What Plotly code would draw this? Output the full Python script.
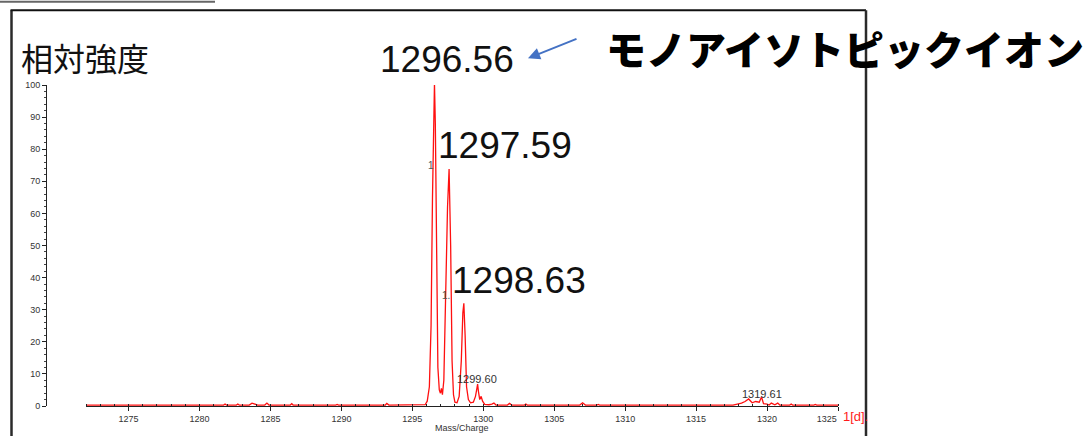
import plotly.graph_objects as go

# ---- data ----
mz = [1272.0, 1281.7, 1281.8, 1281.9, 1282.6, 1282.7, 1282.8, 1283.5, 1283.7, 1283.9, 1284.1,
      1284.6, 1284.75, 1284.9, 1286.4, 1286.5, 1286.6, 1289.6, 1289.7, 1289.8, 1293.1, 1293.2, 1293.35,
      1295.9, 1296.05, 1296.2, 1296.32, 1296.42, 1296.5, 1296.56, 1296.62, 1296.7, 1296.8, 1296.9,
      1296.98, 1297.05, 1297.12, 1297.22, 1297.35, 1297.48, 1297.59, 1297.7, 1297.8, 1297.9, 1298.0,
      1298.15, 1298.3, 1298.45, 1298.56, 1298.63, 1298.72, 1298.82, 1298.95, 1299.1, 1299.3, 1299.45,
      1299.55, 1299.6, 1299.66, 1299.75, 1299.85, 1299.95, 1300.1, 1300.4, 1300.6, 1300.75, 1300.9,
      1301.7, 1301.85, 1302.0, 1302.9, 1303.0, 1303.1, 1306.8, 1307.0, 1307.2, 1308.0, 1308.1, 1308.2,
      1317.6, 1317.9, 1318.2, 1318.45, 1318.7, 1318.95, 1319.2, 1319.45, 1319.61, 1319.75, 1320.0,
      1320.15, 1320.3, 1320.55, 1320.75, 1320.9, 1321.6, 1321.7, 1321.8, 1323.3, 1323.4, 1323.5, 1325.0]
intensity = [0.3, 0.3, 0.6, 0.3, 0.3, 0.6, 0.3, 0.3, 0.9, 0.6, 0.3,
             0.3, 0.9, 0.3, 0.3, 0.7, 0.3, 0.3, 0.5, 0.3, 0.3, 0.8, 0.3,
             0.4, 1.5, 6.0, 25.0, 65.0, 92.0, 100.5, 88.0, 45.0, 12.0, 5.0,
             4.0, 5.5, 3.5, 8.0, 35.0, 62.0, 73.8, 50.0, 14.0, 3.5, 1.2,
             1.0, 3.0, 14.0, 29.0, 32.0, 22.0, 6.0, 2.0, 1.0, 1.2, 3.0,
             5.5, 6.8, 4.5, 2.0, 3.0, 1.5, 0.5, 0.4, 0.6, 0.9, 0.3,
             0.3, 0.8, 0.3, 0.3, 0.6, 0.3, 0.3, 1.0, 0.3, 0.3, 0.5, 0.3,
             0.3, 0.6, 0.9, 1.4, 2.2, 1.0, 1.4, 1.2, 2.8, 0.7, 0.6,
             0.3, 0.9, 0.4, 0.9, 0.3, 0.3, 0.6, 0.3, 0.3, 0.5, 0.3, 0.3]

x_range = [1272, 1325]
y_range = [0, 100]
x_ticks = [1275, 1280, 1285, 1290, 1295, 1300, 1305, 1310, 1315, 1320, 1325]
x_tick_text = ["1275", "1280", "1285", "1290", "1295", "1300", "1305", "1310", "1315", "1320", "1325"]
y_ticks = [0, 10, 20, 30, 40, 50, 60, 70, 80, 90, 100]

peak_labels = ["1296.56", "1297.59", "1298.63"]
small_labels = ["1299.60", "1319.61"]

W, H = 1092, 436
ML, MT, MR, MB = 46, 85, 254, 27
PW = W - ML - MR
PH = H - MT - MB


def px(xp):
    return (xp - ML) / PW


def py(yp):
    return 1 - (yp - MT) / PH


# last tick label sits left of its tick (as in the reference)
tick_text_shown = x_tick_text[:-1] + [x_tick_text[-1] + "\u00a0" * 9]

fig = go.Figure()
fig.add_trace(go.Scatter(x=mz, y=intensity, mode="lines",
                         line=dict(color="#ff1010", width=1.3), hoverinfo="skip",
                         showlegend=False))

fig.update_layout(
    width=W, height=H,
    margin=dict(l=ML, r=MR, t=MT, b=MB),
    paper_bgcolor="white", plot_bgcolor="white",
    font=dict(family="Liberation Sans, Arial", color="#333"),
    xaxis=dict(range=x_range, domain=[px(86), 1], tickvals=x_ticks, ticktext=tick_text_shown,
               ticks="outside", ticklen=4, tickcolor="#222", tickwidth=1,
               showline=True, linecolor="#222", linewidth=1,
               showgrid=False, zeroline=False,
               tickfont=dict(size=9, color="#333"),
               minor=dict(dtick=1, ticks="inside", ticklen=2, tickcolor="#222")),
    yaxis=dict(range=y_range, tickvals=y_ticks, anchor="free", position=0,
               ticks="outside", ticklen=4, tickcolor="#222", tickwidth=1,
               showline=True, linecolor="#222", linewidth=1,
               showgrid=False, zeroline=False,
               tickfont=dict(size=9, color="#333"),
               minor=dict(dtick=2, ticks="outside", ticklen=2, tickcolor="#444")),
)

ann = []
ann.append(dict(text="相対強度", x=px(19), y=py(57), xref="paper", yref="paper",
                xanchor="left", yanchor="middle", showarrow=False,
                font=dict(family="Noto Sans CJK JP", size=32, color="#111")))
big_pos = [(447, 59), (505, 146), (519, 282)]
for lab, (xp, yp) in zip(peak_labels, big_pos):
    ann.append(dict(text=lab, x=px(xp), y=py(yp), xref="paper", yref="paper",
                    xanchor="center", yanchor="middle", showarrow=False,
                    font=dict(family="Liberation Sans", size=37, color="#111")))
small_pos = [(477, 382), (762, 397)]
for lab, (xp, yp) in zip(small_labels, small_pos):
    ann.append(dict(text=lab, x=px(xp), y=py(yp), xref="paper", yref="paper",
                    xanchor="center", yanchor="middle", showarrow=False,
                    font=dict(family="Liberation Sans", size=11, color="#333")))
for lab, (xp, yp) in zip(["1", "1."], [(431, 166), (446, 297)]):
    ann.append(dict(text=lab, x=px(xp), y=py(yp), xref="paper", yref="paper",
                    xanchor="center", yanchor="middle", showarrow=False,
                    font=dict(family="Liberation Sans", size=10, color="#555")))
ann.append(dict(text="モノアイソトピックイオン", x=px(604), y=py(48), xref="paper", yref="paper",
                xanchor="left", yanchor="middle", showarrow=False,
                font=dict(family="Noto Sans CJK JP", size=40, color="#000", weight=900)))
ann.append(dict(text="Mass/Charge", x=px(462), y=py(431), xref="paper", yref="paper",
                xanchor="center", yanchor="middle", showarrow=False,
                font=dict(family="Liberation Sans", size=9, color="#333")))
ann.append(dict(text="1[d].", x=px(841), y=py(420), xref="paper", yref="paper",
                xanchor="left", yanchor="middle", showarrow=False,
                font=dict(family="Liberation Sans", size=13, color="#ff1a1a")))
# blue arrow (tail at upper right, head pointing at the 1296.56 label)
ann.append(dict(text="", x=px(528), y=py(58), ax=50, ay=-20,
                xref="paper", yref="paper", axref="pixel", ayref="pixel",
                showarrow=True, arrowhead=2, arrowsize=1.2, arrowwidth=2, arrowcolor="#4472c4"))
fig.update_layout(annotations=ann)

shapes = [
    # outer frame
    dict(type="line", xref="paper", yref="paper", x0=px(11.5), x1=px(11.5), y0=py(9.5), y1=py(445),
         line=dict(color="#2a2a2a", width=2.5)),
    dict(type="line", xref="paper", yref="paper", x0=px(10.5), x1=px(866), y0=py(9.5), y1=py(9.5),
         line=dict(color="#111", width=2)),
    dict(type="line", xref="paper", yref="paper", x0=px(866), x1=px(866), y0=py(9.5), y1=py(445),
         line=dict(color="#2a2a2a", width=2.5)),
    # top-left grey bar
    dict(type="line", xref="paper", yref="paper", x0=px(-2), x1=px(215), y0=py(1), y1=py(1),
         line=dict(color="#666", width=2)),
]
fig.update_layout(shapes=shapes)

fig.write_html("out.html", config={"displayModeBar": False},
               post_script="document.body.style.margin='0px';document.body.style.overflow='hidden';")
